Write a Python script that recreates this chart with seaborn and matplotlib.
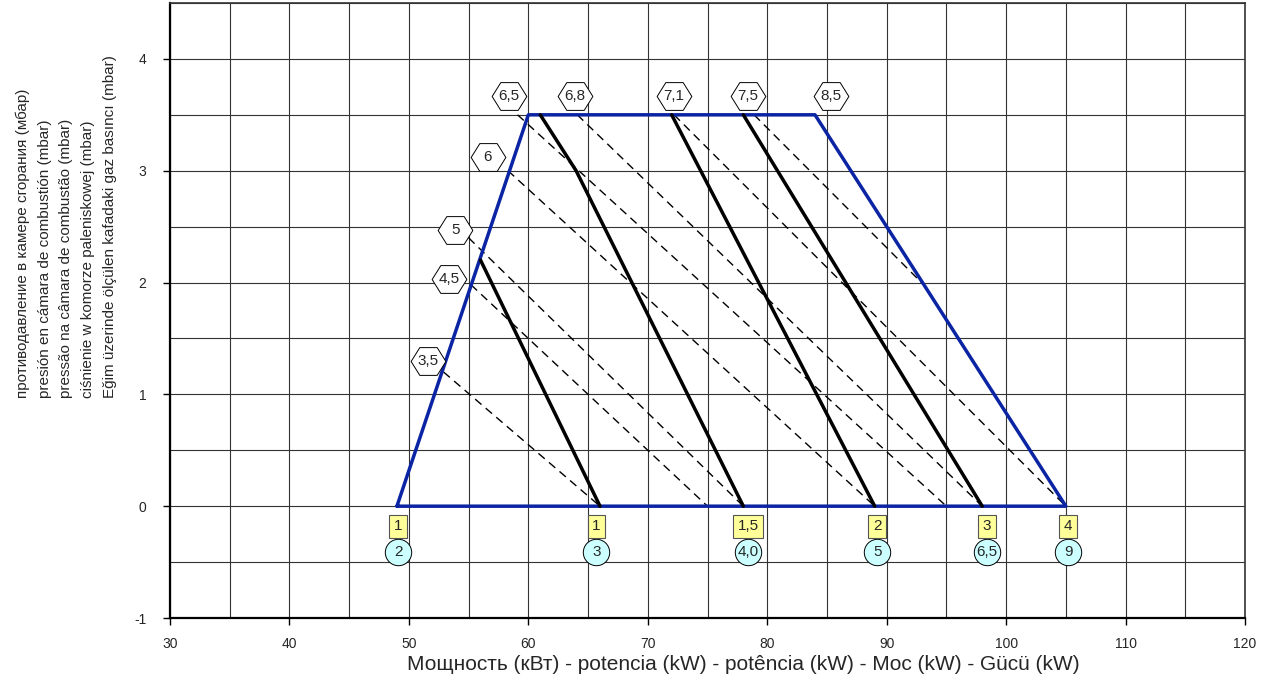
import matplotlib
matplotlib.use("Agg")
import matplotlib.pyplot as plt
from matplotlib.path import Path
from matplotlib.markers import MarkerStyle
import seaborn as sns
import numpy as np

sns.set_theme(style="white")
plt.rcParams['font.family'] = ['Liberation Sans', 'DejaVu Sans']
plt.rcParams['axes.unicode_minus'] = False

# working field outline (kW, mbar)
field_x = [49, 60, 84, 105, 49]
field_y = [0, 3.5, 3.5, 0, 0]

# heavy lines
thick_x = [[56, 66], [61, 64, 78], [72, 89], [78, 98]]
thick_y = [[2.2, 0], [3.5, 3.0, 0], [3.5, 0], [3.5, 0]]

# dashed lines
dash_x = [[52.9, 66], [55.2, 75], [55.0, 78], [58.3, 89],
          [59.1, 95], [64.1, 98], [72.2, 105], [78.9, 93.1]]
dash_y = [[1.2, 0], [1.98, 0], [2.4, 0], [3.0, 0],
          [3.5, 0], [3.5, 0], [3.5, 0], [3.5, 1.98]]

# hexagon labels
hex_labels = ["6,5", "6,8", "7,1", "7,5", "8,5", "6", "5", "4,5", "3,5"]
hex_x = [58.4, 63.9, 72.2, 78.4, 85.3, 56.6, 53.9, 53.35, 51.6]
hex_y = [3.67, 3.67, 3.67, 3.67, 3.67, 3.12, 2.47, 2.03, 1.30]

# bottom labels
bottom_x = [49.1, 65.7, 78.4, 89.2, 98.4, 105.2]
square_labels = ["1", "1", "1,5", "2", "3", "4"]
circle_labels = ["2", "3", "4,0", "5", "6,5", "9"]
square_y = -0.18
circle_y = -0.41

fig = plt.figure(figsize=(12.65, 6.78), dpi=100)
ax = fig.add_axes([170 / 1265, 60 / 678, 1075 / 1265, 615 / 678])

blue = "#0b24a3"
sns.lineplot(x=field_x, y=field_y, sort=False, estimator=None, color=blue,
             lw=2.5, ax=ax, zorder=3)
for xs, ys in zip(thick_x, thick_y):
    sns.lineplot(x=xs, y=ys, sort=False, estimator=None, color="black",
                 lw=2.5, ax=ax, zorder=4)
for xs, ys in zip(dash_x, dash_y):
    sns.lineplot(x=xs, y=ys, sort=False, estimator=None, color="black",
                 lw=1.0, ax=ax, zorder=2, linestyle=(0, (6, 4)))

# elongated hexagon marker
hex_path = Path([(-1, 0), (-0.5, 0.8), (0.5, 0.8), (1, 0), (0.5, -0.8),
                 (-0.5, -0.8), (-1, 0)], closed=True)
ax.scatter(hex_x, hex_y, marker=MarkerStyle(hex_path), s=25 ** 2,
           facecolor="white", edgecolor="black", linewidth=0.7, zorder=6,
           clip_on=False)
for lab, x, y in zip(hex_labels, hex_x, hex_y):
    ax.text(x, y, lab, ha="center", va="center", fontsize=11, zorder=7)

sns.scatterplot(x=bottom_x, y=[circle_y] * len(bottom_x), s=19 ** 2,
                color="#ccffff", edgecolor="black", linewidth=0.7, ax=ax,
                zorder=6)
for lab, x in zip(circle_labels, bottom_x):
    ax.text(x, circle_y, lab, ha="center", va="center", fontsize=11, zorder=7)
for lab, x in zip(square_labels, bottom_x):
    ax.text(x, square_y, lab, ha="center", va="center", fontsize=11, zorder=7,
            bbox=dict(boxstyle="square,pad=0.3", fc="#ffff99", ec="#555555", lw=0.8))

ax.set_xlim(30, 120)
ax.set_ylim(-1, 4.5)
ax.set_xticks(np.arange(30, 121, 10))
ax.set_xticks(np.arange(35, 120, 10), minor=True)
ax.set_yticks(np.arange(-1, 5, 1))
ax.set_yticks(np.arange(-0.5, 4.6, 1), minor=True)
ax.grid(True, which="both", color="#333333", lw=0.8)
ax.tick_params(axis="both", which="major", length=5, width=1, color="black",
               labelsize=10, direction="out", bottom=True, left=True)
ax.tick_params(axis="x", which="major", pad=9)
ax.tick_params(axis="y", which="major", pad=12)
ax.tick_params(which="minor", length=0)
for side in ["left", "bottom"]:
    ax.spines[side].set_linewidth(1.6)
    ax.spines[side].set_color("black")
for side in ["top", "right"]:
    ax.spines[side].set_linewidth(1.2)
    ax.spines[side].set_color("#333333")

ax.set_xlabel("Мощность (кВт) - potencia (kW) - potência (kW) - Moc (kW) - Gücü (kW)",
              fontsize=15)
ax.xaxis.set_label_coords(0.533, -0.06)

ylab = ("противодавление в камере сгорания (мбар)\n"
        "presión en cámara de combustión (mbar)\n"
        "pressão na câmara de combustão (mbar)\n"
        "ciśnienie w komorze paleniskowej (mbar)\n"
        "Eğim üzerinde ölçülen kafadaki gaz basıncı (mbar)")
fig.text(66 / 1265, 1 - 398 / 678, ylab, rotation=90, ha="center", va="bottom",
         multialignment="left", fontsize=11, linespacing=1.7)

fig.savefig("out.png", dpi=100)
